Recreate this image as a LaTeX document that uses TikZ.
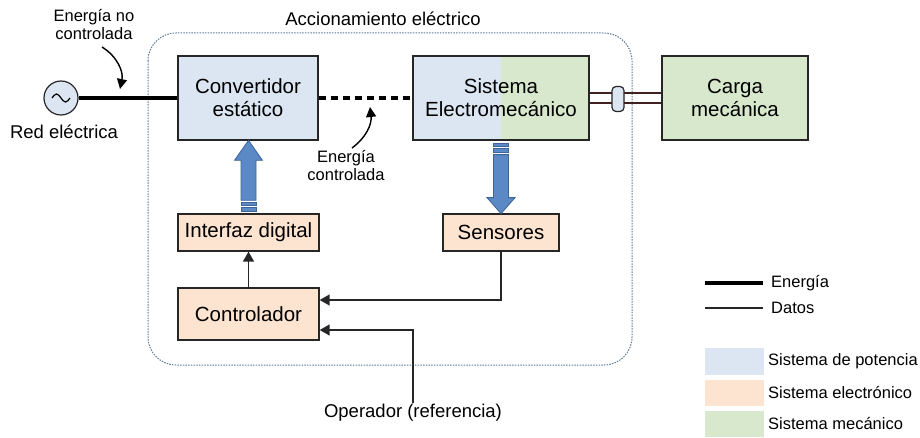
\documentclass[tikz,border=0pt]{standalone}
\usepackage{fontspec}
\setmainfont{Liberation Sans}
\usepackage{tikz}
\usetikzlibrary{arrows.meta,calc,positioning}

\definecolor{potencia}{HTML}{DCE6F2}
\definecolor{electronico}{HTML}{FCE4D0}
\definecolor{mecanico}{HTML}{D7E8CD}
\definecolor{flecha}{HTML}{5B89C6}
\definecolor{flechaborde}{HTML}{3E6497}
\definecolor{borde}{HTML}{262626}
\definecolor{limite}{HTML}{5C7A96}

\tikzset{
  bloque/.style={draw=borde, line width=1.3pt, align=center, inner sep=0pt,
    font=\fontsize{20.5}{23}\selectfont},
  etiqueta/.style={align=center, inner sep=1pt, font=\fontsize{16.5}{18}\selectfont},
  titulo/.style={align=center, inner sep=1pt, font=\fontsize{18.5}{21}\selectfont},
  energia/.style={line width=3.6pt, black},
  datos/.style={line width=1.4pt, borde},
  punta/.style={-{Triangle[width=11pt,length=10pt]}},
  curva/.style={line width=1.4pt, -{Triangle[width=10pt,length=10pt]}},
  gorda/.style={fill=flecha, draw=flechaborde, line width=0.8pt},
  eje/.style={line width=1.3pt, draw=borde!88!red}
}

\begin{document}
\begin{tikzpicture}[x=1pt, y=-1pt]
  \useasboundingbox (0,0) rectangle (920,438);

  % limite del accionamiento
  \draw[limite, line width=1pt, dash pattern=on 1.5pt off 1.2pt, rounded corners=28pt]
    (148,33) rectangle (632,365);
  \node[titulo] (accion) at (383,19) {Accionamiento eléctrico};

  % bloques
  \node[bloque, fill=potencia, minimum width=140pt, minimum height=84pt] (conv) at (248,98) {Convertidor\\estático};
  \node[bloque, minimum width=176pt, minimum height=84pt, fill=potencia,
    path picture={\fill[mecanico] (path picture bounding box.north) rectangle (path picture bounding box.south east);}]
    (sist) at (501,98) {Sistema\\Electromecánico};
  \node[bloque, fill=mecanico, minimum width=146pt, minimum height=84pt] (carga) at (735,98) {Carga\\mecánica};
  \node[bloque, fill=electronico, minimum width=141pt, minimum height=37pt] (interfaz) at (248.5,232.5) {Interfaz digital};
  \node[bloque, fill=electronico, minimum width=141pt, minimum height=52pt] (ctrl) at (248.5,314) {Controlador};
  \node[bloque, fill=electronico, minimum width=116pt, minimum height=37pt] (sens) at (501,232.5) {Sensores};

  % red
  \node[draw=borde, line width=1.2pt, circle, fill=potencia, minimum size=34pt, inner sep=0pt] (red) at (61,98) {};
  \draw[line width=1.2pt] (red.center) ++(-9,0) sin ++(4.5,-4) cos ++(4.5,4) sin ++(4.5,4) cos ++(4.5,-4);
  \node[titulo] (redtxt) at (64,132) {Red eléctrica};

  % energia
  \draw[energia] (red.east) -- (conv.west);
  \draw[energia, dash pattern=on 7pt off 5pt] (conv.east) -- (sist.west);
  \node[etiqueta] (noctrl) at (94,24.5) {Energía no\\controlada};
  \draw[curva] (102,47) to[bend left=35] (120,89);
  \node[etiqueta] (ctrlada) at (346,166) {Energía\\controlada};
  \draw[curva] (352,148) to[bend right=30] (370,107);

  % eje y acople
  \draw[eje] ($(sist.east)+(0,-5)$) -- ($(carga.west)+(0,-5)$);
  \draw[eje] ($(sist.east)+(0,5)$) -- ($(carga.west)+(0,5)$);
  \node[draw=borde, line width=1.2pt, fill=potencia, rounded corners=4pt,
    minimum width=12pt, minimum height=25pt, inner sep=0pt] (acople) at (618,99) {};

  % flechas gordas
  \begin{scope}[shift={(interfaz.north)}]
    \filldraw[gorda] (-7.5,-2) rectangle (7.5,-6);
    \filldraw[gorda] (-7.5,-8) rectangle (7.5,-11);
    \filldraw[gorda] (-7.5,-13) -- (-7.5,-53) -- (-14,-53) -- (0,-73) -- (14,-53) -- (7.5,-53) -- (7.5,-13) -- cycle;
  \end{scope}
  \begin{scope}[shift={(sist.south)}]
    \filldraw[gorda] (-7.5,3) rectangle (7.5,6);
    \filldraw[gorda] (-7.5,8) rectangle (7.5,12);
    \filldraw[gorda] (-7.5,14) -- (-7.5,57) -- (-14,57) -- (0,73) -- (14,57) -- (7.5,57) -- (7.5,14) -- cycle;
  \end{scope}

  % datos
  \draw[datos, punta] (ctrl.north) -- (interfaz.south);
  \draw[datos, punta] (sens.south) |- ($(ctrl.east)+(0,-14)$);
  \node[titulo] (oper) at (413,413) {Operador (referencia)};
  \draw[datos, punta] (oper.north) |- ($(ctrl.east)+(0,16)$);

  % leyenda
  \draw[energia] (705,283) -- (763,283);
  \node[etiqueta, anchor=west] (leyenergia) at (770,283) {Energía};
  \draw[datos] (705,308) -- (763,308);
  \node[etiqueta, anchor=west] (leydatos) at (770,308) {Datos};
  \fill[potencia] (705,348) rectangle (764,375);
  \node[etiqueta, anchor=west] (leypot) at (767,361.5) {Sistema de potencia};
  \fill[electronico] (705,380) rectangle (764,406);
  \node[etiqueta, anchor=west] (leyelec) at (767,393) {Sistema electrónico};
  \fill[mecanico] (705,411) rectangle (764,437);
  \node[etiqueta, anchor=west] (leymec) at (767,424) {Sistema mecánico};
\end{tikzpicture}
\end{document}
